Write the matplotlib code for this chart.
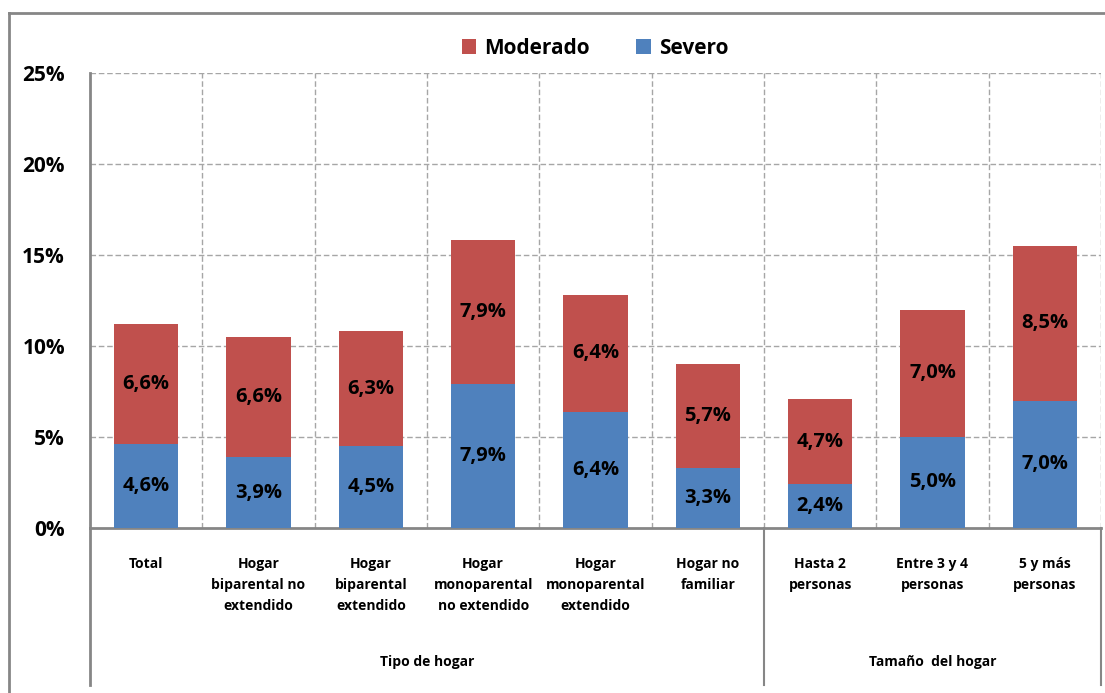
import matplotlib.pyplot as plt
from matplotlib.lines import Line2D
from matplotlib.transforms import blended_transform_factory

plt.rcParams['font.family'] = ['Open Sans', 'DejaVu Sans']

categories = [
    "Total",
    "Hogar\nbiparental no\nextendido",
    "Hogar\nbiparental\nextendido",
    "Hogar\nmonoparental\nno extendido",
    "Hogar\nmonoparental\nextendido",
    "Hogar no\nfamiliar",
    "Hasta 2\npersonas",
    "Entre 3 y 4\npersonas",
    "5 y más\npersonas",
]
severo = [4.6, 3.9, 4.5, 7.9, 6.4, 3.3, 2.4, 5.0, 7.0]
moderado = [6.6, 6.6, 6.3, 7.9, 6.4, 5.7, 4.7, 7.0, 8.5]
groups = ["Tipo de hogar", "Tamaño  del hogar"]
group_sizes = [6, 3]
y_ticks = [0, 5, 10, 15, 20, 25]

RED = "#C0504D"
BLUE = "#4F81BD"
GRID = "#A6A6A6"
FRAME = "#868686"

fig = plt.figure(figsize=(11.05, 6.93), dpi=100)
ax = fig.add_axes([90 / 1105, 1 - 528 / 693, (1101 - 90) / 1105, (528 - 73) / 693])

x = [i + 0.5 for i in range(len(categories))]
ax.bar(x, severo, width=0.57, color=BLUE, label="Severo", zorder=3)
ax.bar(x, moderado, width=0.57, bottom=severo, color=RED, label="Moderado", zorder=3)

def pct(v):
    return f"{v:.1f}%".replace(".", ",")

for xi, s, m in zip(x, severo, moderado):
    ax.text(xi, s / 2, pct(s), ha="center", va="center", fontsize=14.5,
            fontweight="bold", color="black", zorder=4)
    ax.text(xi, s + m / 2, pct(m), ha="center", va="center", fontsize=14.5,
            fontweight="bold", color="black", zorder=4)

ax.set_xlim(0, len(categories))
ax.set_ylim(0, 25)
ax.set_yticks(y_ticks)
ax.set_yticklabels([f"{t}%" for t in y_ticks], fontsize=15, fontweight="bold")
ax.tick_params(axis="y", length=0, pad=18)
ax.set_xticks([])

# dashed grid: horizontal at each tick, vertical at category boundaries
for t in y_ticks[1:]:
    ax.axhline(t, color=GRID, lw=1, ls=(0, (4, 2)), zorder=1)
for b in range(1, len(categories) + 1):
    ax.axvline(b, color=GRID, lw=1, ls=(0, (4, 2)), zorder=1)

for side in ["top", "right"]:
    ax.spines[side].set_visible(False)
ax.spines["left"].set_color(FRAME)
ax.spines["left"].set_linewidth(2)
ax.spines["bottom"].set_color(FRAME)
ax.spines["bottom"].set_linewidth(2)

# two-level category axis
trans = blended_transform_factory(ax.transData, ax.transAxes)
depth = -(685 - 528) / 455
for xi, lab in zip(x, categories):
    ax.text(xi, -(557 - 528) / 455, lab, transform=trans, ha="center", va="top",
            fontsize=10, fontweight="bold", linespacing=1.62)

start = 0
for g, n in zip(groups, group_sizes):
    ax.text(start + n / 2, -(662 - 528) / 455, g, transform=trans, ha="center",
            va="center", fontsize=10, fontweight="bold")
    start += n

bounds = [0]
for n in group_sizes:
    bounds.append(bounds[-1] + n)
for b in bounds:
    ax.add_line(Line2D([b, b], [0, depth], transform=trans, color=FRAME,
                       lw=2 if b == 0 else 1.5, clip_on=False))

# legend
handles, labels = ax.get_legend_handles_labels()
leg = fig.legend(handles[::-1], labels[::-1], loc="center", ncol=2,
                 bbox_to_anchor=(595 / 1105, 1 - 48 / 693), frameon=False,
                 prop={"size": 15, "weight": "bold"}, handlelength=0.7,
                 handleheight=0.7, handletextpad=0.4, columnspacing=2.2)

# outer chart frame
fig.add_artist(Line2D([9 / 1105, 1], [1 - 13 / 693, 1 - 13 / 693],
                      transform=fig.transFigure, color=FRAME, lw=2))
fig.add_artist(Line2D([9 / 1105, 9 / 1105], [0, 1 - 13 / 693],
                      transform=fig.transFigure, color=FRAME, lw=2))

fig.savefig("out.png", dpi=100)
